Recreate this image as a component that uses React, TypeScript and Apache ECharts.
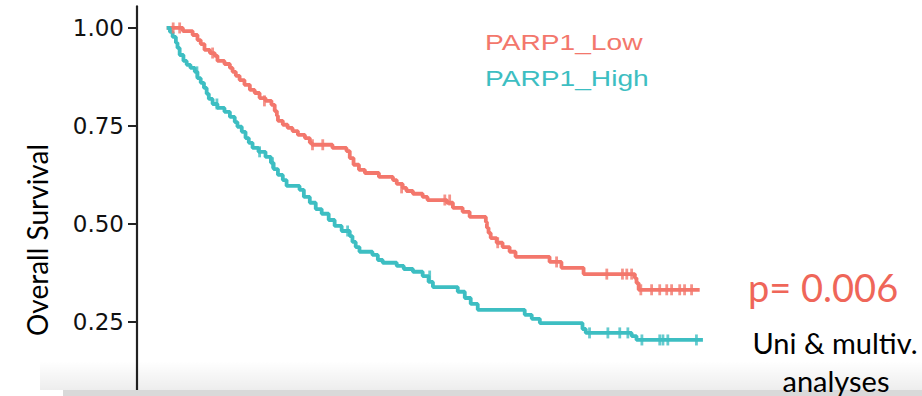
import React, { useEffect, useRef } from "react";
import * as echarts from "echarts";

// Kaplan–Meier step points: [time, survival after event]
const lowSteps: [number, number][] = [
  [0, 1.0], [3.0, 0.992], [4.8, 0.982], [5.7, 0.969], [6.3, 0.959], [7.0, 0.944],
  [8.0, 0.936], [8.9, 0.929], [9.4, 0.916], [10.7, 0.908], [11.7, 0.898], [12.2, 0.888],
  [12.8, 0.878], [13.5, 0.867], [14.4, 0.855], [15.4, 0.842], [16.3, 0.834], [17.2, 0.821],
  [18.3, 0.814], [19.4, 0.804], [20.0, 0.788], [20.4, 0.776], [20.6, 0.763], [21.5, 0.753],
  [22.4, 0.745], [23.3, 0.737], [24.3, 0.727], [25.6, 0.719], [26.5, 0.707], [26.9, 0.702],
  [30.7, 0.694], [33.3, 0.686], [33.9, 0.668], [34.6, 0.651], [35.6, 0.638], [36.7, 0.63],
  [39.3, 0.62], [41.9, 0.612], [42.6, 0.602], [43.7, 0.592], [44.4, 0.584], [45.6, 0.577],
  [47.4, 0.569], [48.3, 0.561], [51.9, 0.554], [53.0, 0.541], [54.8, 0.531], [56.1, 0.518],
  [59.1, 0.505], [59.3, 0.49], [59.6, 0.477], [60.0, 0.464], [61.1, 0.452], [62.2, 0.441],
  [63.5, 0.429], [64.6, 0.416], [70.9, 0.403], [73.1, 0.388], [77.2, 0.372], [86.7, 0.362],
  [87.0, 0.349], [87.4, 0.332], [98.7, 0.332],
];
const lowCensor: [number, number][] = [
  [1.2, 1.0], [2.4, 1.0], [8.5, 0.936], [18.1, 0.814], [27.0, 0.702], [28.9, 0.702],
  [43.5, 0.592], [51.5, 0.561], [52.4, 0.561], [61.3, 0.452], [72.2, 0.403],
  [81.5, 0.372], [84.4, 0.372], [85.2, 0.372], [86.1, 0.372],
  [87.8, 0.332], [89.8, 0.332], [91.3, 0.332], [92.6, 0.332], [93.5, 0.332],
  [95.0, 0.332], [95.9, 0.332], [97.2, 0.332],
];

const highSteps: [number, number][] = [
  [0, 1.0], [0.6, 0.99], [1.1, 0.977], [1.7, 0.962], [2.0, 0.949], [2.4, 0.931],
  [3.1, 0.916], [3.7, 0.906], [4.4, 0.898], [5.2, 0.888], [5.7, 0.872], [6.3, 0.86],
  [6.9, 0.847], [7.4, 0.832], [7.8, 0.819], [8.5, 0.806], [9.4, 0.796], [10.7, 0.786],
  [11.7, 0.773], [12.6, 0.76], [13.1, 0.748], [13.9, 0.735], [14.6, 0.719], [15.2, 0.707],
  [15.9, 0.694], [17.0, 0.684], [18.3, 0.671], [19.3, 0.656], [19.8, 0.64], [20.6, 0.625],
  [21.5, 0.612], [22.2, 0.597], [24.6, 0.587], [25.4, 0.569], [26.5, 0.554], [27.6, 0.538],
  [28.7, 0.526], [30.0, 0.51], [31.1, 0.495], [32.4, 0.482], [33.9, 0.469], [34.4, 0.454],
  [35.0, 0.441], [35.7, 0.429], [38.1, 0.421], [39.1, 0.408], [40.0, 0.401], [42.6, 0.393],
  [43.9, 0.385], [45.6, 0.378], [47.4, 0.367], [48.5, 0.352], [49.3, 0.339], [53.9, 0.327],
  [55.2, 0.311], [56.3, 0.296], [57.6, 0.281], [66.3, 0.268], [67.6, 0.258], [69.1, 0.247],
  [77.0, 0.232], [77.6, 0.222], [86.1, 0.214], [87.0, 0.204], [99.3, 0.204],
];
const highCensor: [number, number][] = [
  [5.6, 0.888], [9.3, 0.806], [17.2, 0.684], [19.6, 0.656], [33.5, 0.482], [48.7, 0.367],
  [78.3, 0.222], [81.7, 0.222], [83.9, 0.222], [85.4, 0.222],
  [88.0, 0.204], [91.3, 0.204], [91.9, 0.204], [92.8, 0.204], [98.1, 0.204],
];

const yTicks = [0.25, 0.5, 0.75, 1.0];
const groupNames = ["PARP1_Low", "PARP1_High"];
const yTitle = "Overall Survival";
const pText = "p= 0.006";
const noteLines = ["Uni & multiv.", "analyses"];

const RED = "#F3776C";
const TEAL = "#3DBEC2";

export default function App() {
  const ref = useRef<HTMLDivElement>(null);
  useEffect(() => {
    if (!ref.current) return;
    const chart = echarts.init(ref.current, undefined, { renderer: "svg" });
    const option: any = {
      animation: false,
      backgroundColor: "#ffffff",
      grid: {
        left: 137,
        top: 6.4,
        width: 623.7,
        height: 390,
        containLabel: false,
        outerBoundsMode: "none",
      },
      xAxis: {
        type: "value",
        min: -5.5,
        max: 110,
        show: false,
        splitLine: { show: false },
      },
      yAxis: {
        type: "value",
        min: 0.06,
        max: 1.055,
        splitLine: { show: false },
        axisLine: {
          show: true,
          onZero: false,
          lineStyle: { color: "#222222", width: 2.2 },
        },
        axisTick: {
          show: true,
          length: 9,
          inside: false,
          customValues: yTicks,
          lineStyle: { color: "#222222", width: 2 },
        },
        axisLabel: {
          show: true,
          customValues: yTicks,
          margin: 13,
          color: "#111111",
          fontFamily: "DejaVu Sans",
          fontSize: 23,
          formatter: (v: number) => v.toFixed(2),
        },
      },
      series: [
        {
          name: groupNames[0],
          type: "line",
          step: "end",
          data: lowSteps,
          symbol: "none",
          lineStyle: { color: RED, width: 3.8 },
          z: 3,
        },
        {
          name: groupNames[1],
          type: "line",
          step: "end",
          data: highSteps,
          symbol: "none",
          lineStyle: { color: TEAL, width: 3.8 },
          z: 3,
        },
        {
          type: "scatter",
          data: lowCensor,
          symbol: "rect",
          symbolSize: [2.8, 11],
          itemStyle: { color: RED },
          z: 4,
        },
        {
          type: "scatter",
          data: highCensor,
          symbol: "rect",
          symbolSize: [2.8, 11],
          itemStyle: { color: TEAL },
          z: 4,
        },
      ],
      graphic: [
        {
          type: "text",
          x: 485,
          y: 42,
          scaleX: 1.28,
          z: 10,
          style: {
            text: groupNames[0],
            fill: RED,
            fontFamily: "Liberation Sans",
            fontSize: 22,
            align: "left",
            verticalAlign: "middle",
            textAlign: "left",
            textVerticalAlign: "middle",
          },
        },
        {
          type: "text",
          x: 485,
          y: 78,
          scaleX: 1.28,
          z: 10,
          style: {
            text: groupNames[1],
            fill: TEAL,
            fontFamily: "Liberation Sans",
            fontSize: 22,
            align: "left",
            verticalAlign: "middle",
            textAlign: "left",
            textVerticalAlign: "middle",
          },
        },
        {
          type: "text",
          x: 37,
          y: 240,
          rotation: Math.PI / 2,
          z: 10,
          style: {
            text: yTitle,
            fill: "#000000",
            fontFamily: "Lato",
            fontSize: 28,
            align: "center",
            verticalAlign: "middle",
            textAlign: "center",
            textVerticalAlign: "middle",
          },
        },
        {
          type: "text",
          x: 748,
          y: 287,
          z: 10,
          style: {
            text: pText,
            fill: "#EF6659",
            fontFamily: "Lato",
            fontSize: 38,
            align: "left",
            verticalAlign: "middle",
            textAlign: "left",
            textVerticalAlign: "middle",
          },
        },
        {
          type: "rect",
          z: 20,
          silent: true,
          shape: { x: 40, y: 361, width: 882, height: 29 },
          style: {
            fill: new echarts.graphic.LinearGradient(0, 0, 0, 1, [
              { offset: 0, color: "rgba(0,0,0,0)" },
              { offset: 1, color: "rgba(0,0,0,0.07)" },
            ]),
          },
        },
        {
          type: "rect",
          z: 21,
          silent: true,
          shape: { x: 63, y: 390, width: 859, height: 6 },
          style: { fill: "#d9d9d9" },
        },
        {
          type: "text",
          x: 835,
          y: 342,
          z: 30,
          style: {
            text: noteLines[0],
            fill: "#000000",
            fontFamily: "Lato",
            fontSize: 29,
            align: "center",
            verticalAlign: "middle",
            textAlign: "center",
            textVerticalAlign: "middle",
          },
        },
        {
          type: "text",
          x: 836,
          y: 380,
          z: 30,
          style: {
            text: noteLines[1],
            fill: "#000000",
            fontFamily: "Lato",
            fontSize: 29,
            align: "center",
            verticalAlign: "middle",
            textAlign: "center",
            textVerticalAlign: "middle",
          },
        },
      ],
    };
    chart.setOption(option);
    return () => chart.dispose();
  }, []);
  return (
    <div
      ref={ref}
      style={{ position: "fixed", left: 0, top: 0, width: 922, height: 396 }}
    />
  );
}
